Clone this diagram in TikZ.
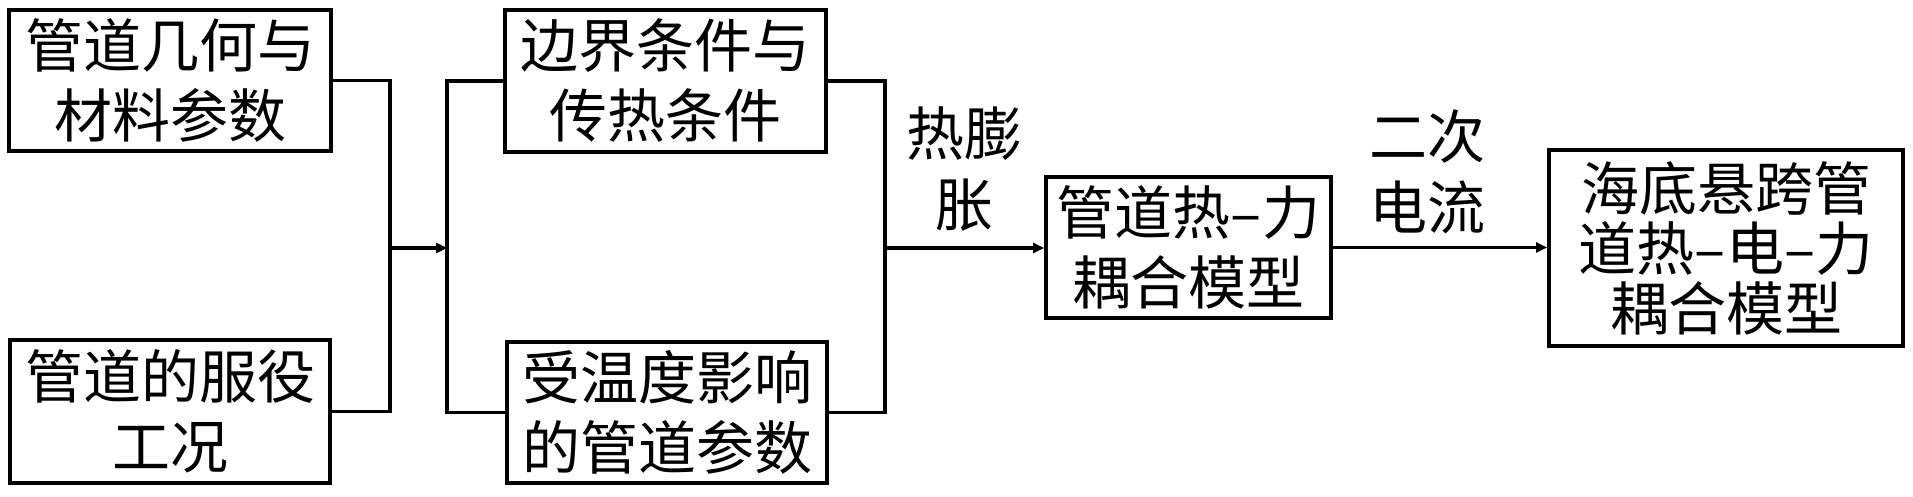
\documentclass[tikz,border=0pt]{standalone}
\usepackage{fontspec}
\newfontfamily\cjk{Noto Sans CJK SC}
\usetikzlibrary{arrows.meta}
\begin{document}
\begin{tikzpicture}[x=1pt,y=1pt,
  box/.style={draw=black,line width=3.8pt,inner sep=0pt,align=center,
    font=\cjk\fontsize{58}{70}\selectfont,line join=miter},
  lbl/.style={inner sep=0pt,align=center,font=\cjk\fontsize{58}{71}\selectfont},
  conn/.style={line width=3.5pt,line join=miter},
  arr/.style={conn,-{Triangle[length=11pt,width=10pt]}}]
\useasboundingbox (0,0) rectangle (1913,497);
\node[box,minimum width=322pt,minimum height=141pt] (B1) at (170,416.5) {管道几何与\\材料参数};
\node[box,minimum width=320pt,minimum height=143pt] (B2) at (170,85.5) {管道的服役\\工况};
\node[box,minimum width=321pt,minimum height=142pt] (B3) at (665.5,416) {边界条件与\\传热条件};
\node[box,minimum width=320pt,minimum height=141pt] (B4) at (667,84.5) {受温度影响\\的管道参数};
\node[box,minimum width=285pt,minimum height=141pt] (B5) at (1188.5,249.5) {管道热–力\\耦合模型};
\node[box,minimum width=354pt,minimum height=196pt,font=\cjk\fontsize{58}{60}\selectfont] (B6) at (1726,249) {海底悬跨管\\道热–电–力\\耦合模型};
\node[lbl] (L1) at (964,328) {热膨\\胀};
\node[lbl] (L2) at (1427,325) {二次\\电流};
\coordinate (j1) at (390,249);
\coordinate (j2) at (447,249);
\coordinate (j3) at (885,249);
\draw[conn] (B1.east) -| (j1) |- (B2.east);
\draw[arr] (j1) -- (j2);
\draw[conn] (B3.west) -| (j2) |- (B4.west);
\draw[conn] (B3.east) -| (j3) |- (B4.east);
\draw[arr] (j3) -- (j3 -| B5.west);
\draw[arr] (B5.east) -- (B5.east -| B6.west);
\end{tikzpicture}
\end{document}
